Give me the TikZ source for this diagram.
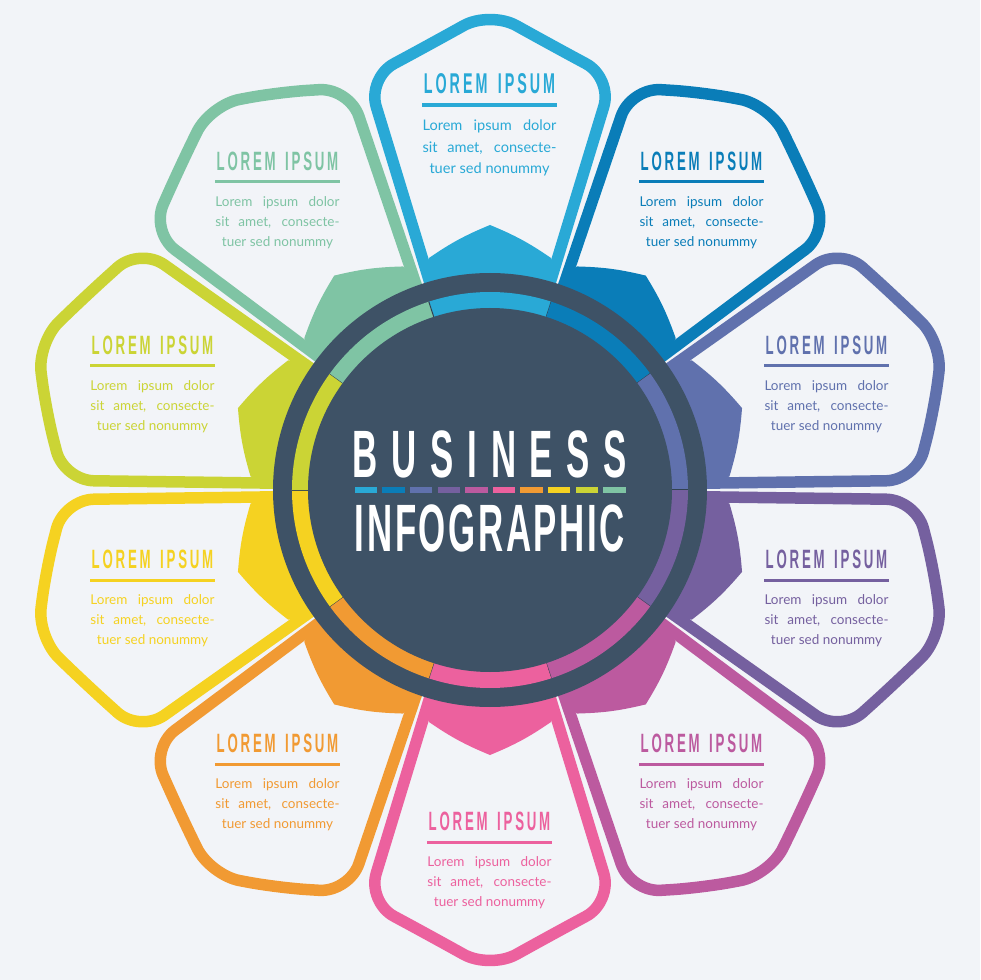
\documentclass[tikz,border=0pt]{standalone}
\usepackage{fontspec}
\usetikzlibrary{positioning}
\setmainfont{Lato}
\newfontfamily\headfont[FakeStretch=0.5,LetterSpace=10.5]{Liberation Sans}
\newfontfamily\businessfont[FakeStretch=0.52,LetterSpace=20.5]{Liberation Sans}
\newfontfamily\infofont[FakeStretch=0.52,LetterSpace=3.9]{Liberation Sans}
\definecolor{page}{HTML}{F2F4F8}
\definecolor{slate}{HTML}{3E5266}
\definecolor{sky}{HTML}{29A9D6}
\definecolor{ocean}{HTML}{0A7DB8}
\definecolor{iris}{HTML}{6071AD}
\definecolor{grape}{HTML}{75609F}
\definecolor{plum}{HTML}{BC5A9F}
\definecolor{rose}{HTML}{EC619E}
\definecolor{amber}{HTML}{F19A33}
\definecolor{sun}{HTML}{F5D221}
\definecolor{lime}{HTML}{CBD435}
\definecolor{mint}{HTML}{7FC4A4}
\newcommand{\loremtext}{\makebox[124pt][s]{Lorem ipsum dolor}\\\makebox[124pt][s]{sit amet, consecte-}\\tuer sed nonummy}
\tikzset{
  petalline/.style  = { line width=11.5pt, rounded corners=30pt },
  rulebar/.style    = { rectangle, minimum width=125pt, minimum height=3pt, inner sep=0pt },
  headline/.style   = { inner sep=0pt, font=\headfont\bfseries\fontsize{26.5}{26.5}\selectfont },
  bodytext/.style   = { inner sep=0pt, align=center, font=\fontsize{13.5}{20}\selectfont },
  swatch/.style     = { rectangle, minimum width=22.5pt, minimum height=6pt, inner sep=0pt },
  title/.style      = { inner sep=0pt, text=white }
}

\begin{document}
\begin{tikzpicture}[x=1pt,y=1pt]
  \fill [page] (-490,-490) rectangle (490,490);
  \useasboundingbox (-490,-490) rectangle (490,490);

  \foreach \name/\ang/\px/\py/\s/\bl/\br in {
      sky/0/-0.5/385/1.08/0/0, ocean/-36/211.5/308/1/3/0, iris/-72/336.5/124/1/0/3,
      grape/-108/336.5/-90/1/3/0, plum/-144/211.5/-274/1/0/3, rose/-180/-0.5/-352/1/0/0,
      amber/-216/-212.5/-274/1/3/0, sun/-252/-337.5/-90/1/0/3, lime/-288/-337.5/124/1/3/0,
      mint/-324/-212.5/308/1/0/3} {
    \begin{scope}[rotate=\ang]
      \fill [\name] (0,0) -- (65.5,206) -- (61,232) to [bend right=6] (0,265)
            to [bend right=6] (-61,232) -- (-65.5,206) -- cycle;
      \draw [petalline,\name] (57,197) -- (122.5,412-1.3*\bl-1.3*\br)
            -- (61.25+0.3*\br,445+0.5*\br-0.5*\bl) -- (0,479-\bl-\br)
            -- (-61.25-0.3*\bl,445+0.5*\bl-0.5*\br) -- (-122.5,412-1.3*\bl-1.3*\br) -- (-57,197);
    \end{scope}
    \node (rule\name) [rulebar,fill=\name,scale=\s] at (\px,\py) {};
    \node (head\name) [headline,text=\name,scale=\s,above=9pt of rule\name] {LOREM\hspace{3pt} IPSUM};
    \node (body\name) [bodytext,text=\name,scale=\s,below=13pt of rule\name] {\loremtext};
  }

  \fill [slate] (0,0) circle [radius=217];
  \foreach \name/\ang in {sky/0,ocean/-36,iris/-72,grape/-108,plum/-144,rose/-180,
      amber/-216,sun/-252,lime/-288,mint/-324} {
    \fill [rotate=\ang,\name]
        (0,0) -- (72:198) arc [start angle=72,end angle=108,radius=198] -- cycle;
    \draw [rotate=\ang,slate!80!black,line width=1pt] (72:182) -- (72:198);
  }
  \fill [slate] (0,0) circle [radius=182];

  \coordinate (centre) at (0,0);
  \foreach \name [count=\i from 0] in {sky,ocean,iris,grape,plum,rose,amber,sun,lime,mint} {
    \node (swatch\i) [swatch,fill=\name] at (-124+27.6*\i,0) {};
  }
  \node (business)    [title,above=12pt of centre,font=\businessfont\bfseries\fontsize{67}{67}\selectfont] {BUSINESS};
  \node (infographic) [title,below=15pt of centre,font=\infofont\bfseries\fontsize{67}{67}\selectfont] {INFOGRAPHIC};
\end{tikzpicture}
\end{document}
